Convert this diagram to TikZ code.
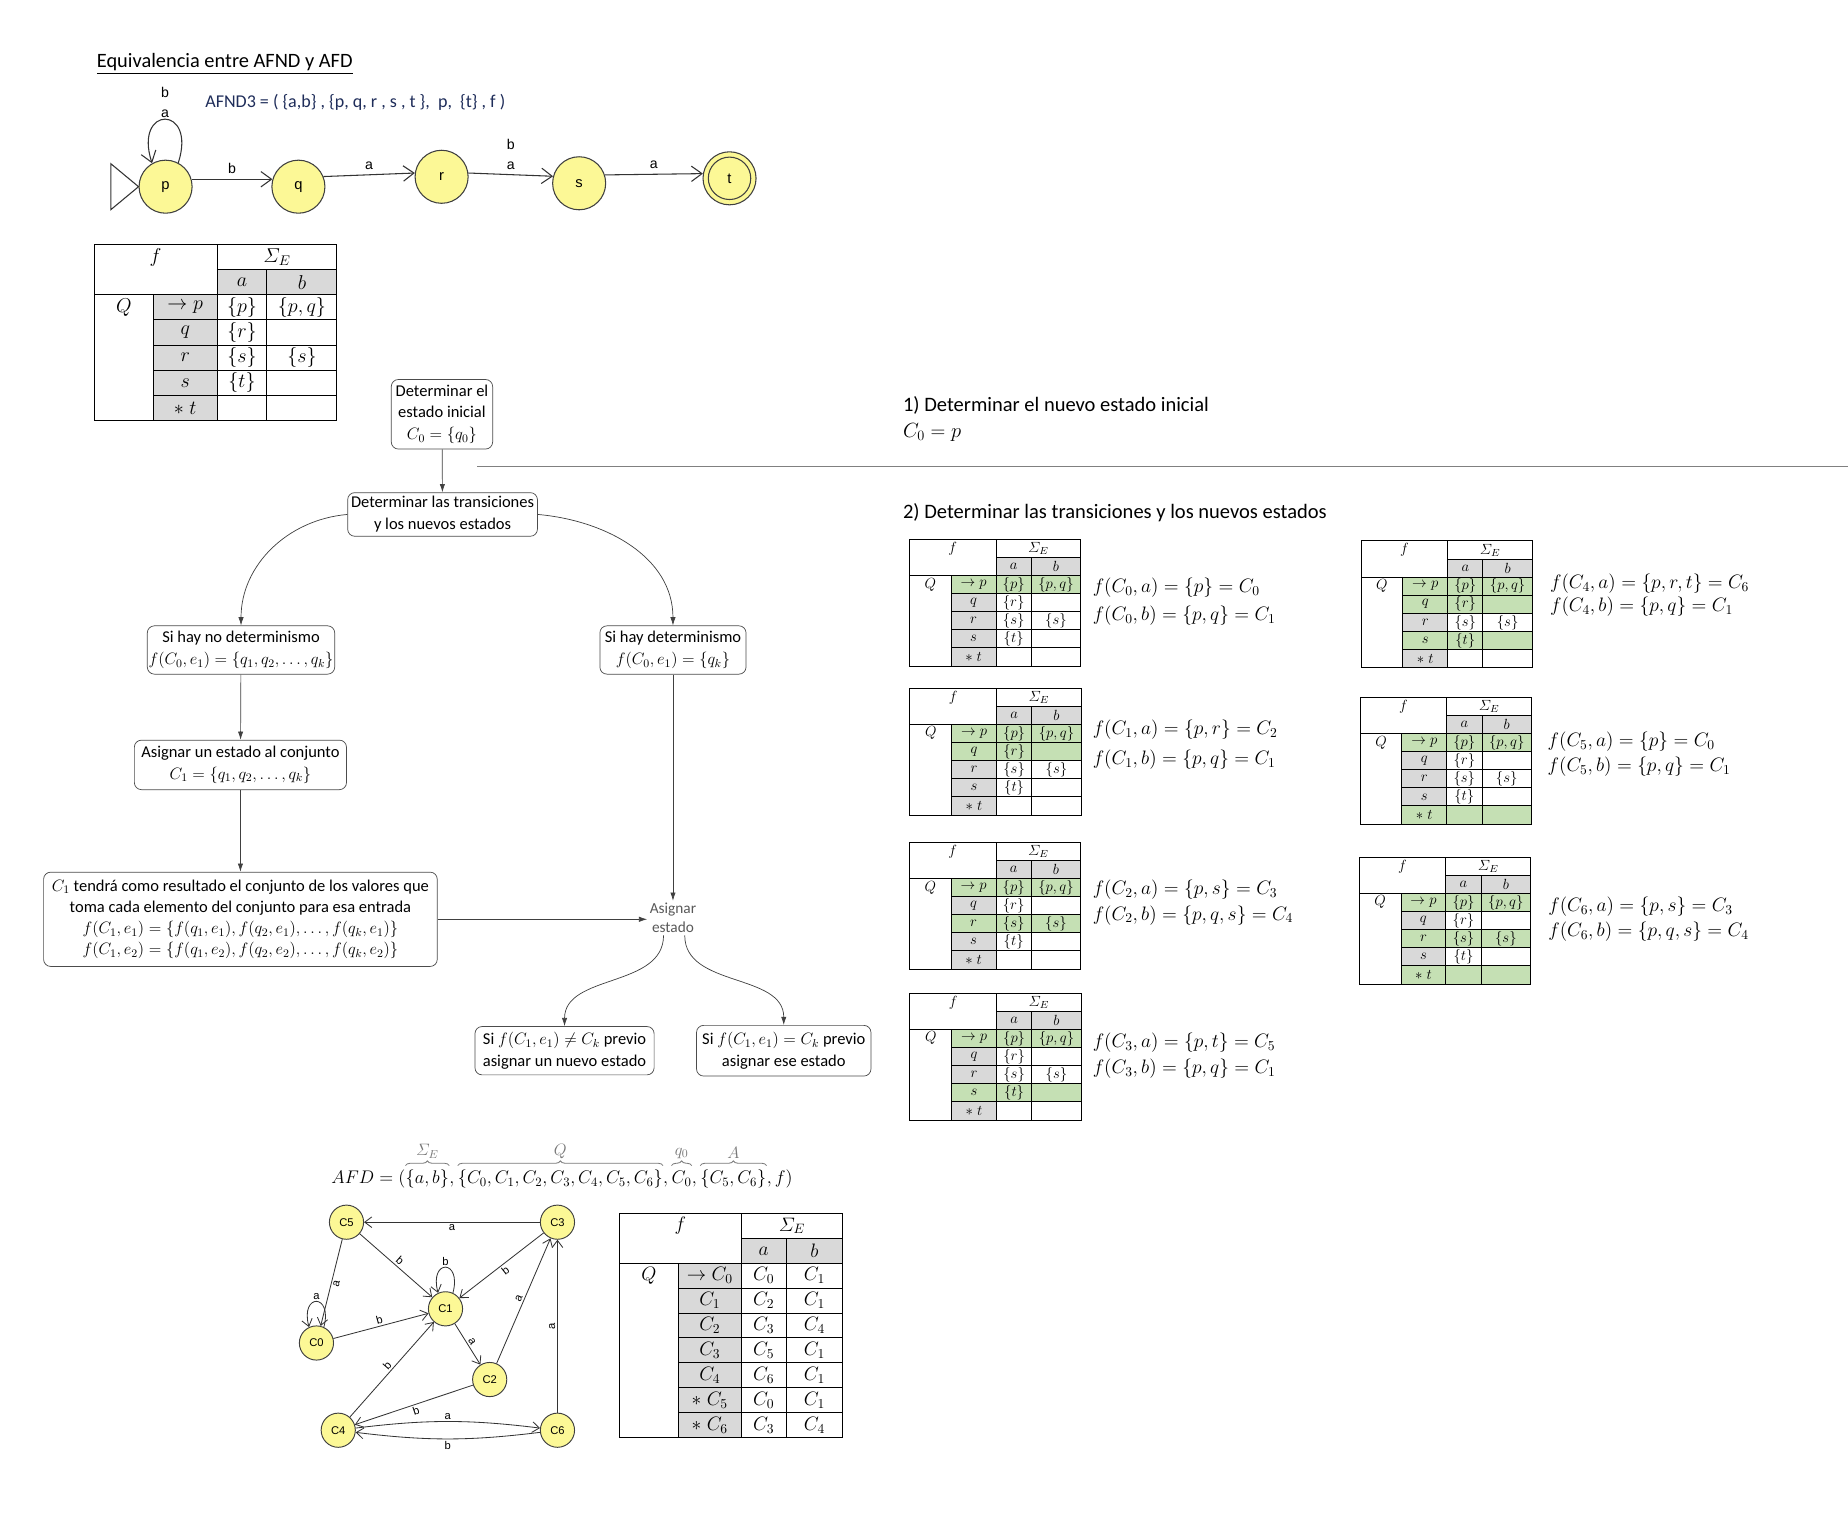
\RequirePackage{fix-cm}
\documentclass[tikz,border=0pt]{standalone}
\usepackage{amsmath}
\usepackage[no-math]{fontspec}
\setmainfont{Carlito}
\newfontfamily\arialfont{Liberation Sans}
\usetikzlibrary{arrows.meta,calc,decorations.pathreplacing}

\definecolor{nodeyellow}{RGB}{252,248,150}
\definecolor{cgray}{RGB}{217,217,217}
\definecolor{cgreen}{RGB}{197,224,180}
\definecolor{braceg}{RGB}{120,120,120}
\definecolor{navytext}{RGB}{31,45,90}

\tikzset{
  tabline/.style={draw=black, line width=0.8pt},
  afnst/.style={circle, draw=black!75, line width=0.9pt, fill=nodeyellow,
    minimum size=45pt, inner sep=0pt, font=\arialfont\fontsize{12.5}{14}\selectfont},
  aedge/.style={draw=black!80, line width=0.9pt, -{Straight Barb[length=9pt,width=13pt]}},
  alab/.style={font=\arialfont\fontsize{12}{17}\selectfont, inner sep=1pt, align=center},
  dst/.style={circle, draw=black!75, line width=0.8pt, fill=nodeyellow,
    minimum size=29pt, inner sep=0pt, font=\arialfont\fontsize{9.5}{11}\selectfont},
  dedge/.style={draw=black!80, line width=0.7pt, -{Straight Barb[length=6pt,width=9pt]}},
  dlab/.style={font=\arialfont\fontsize{9.5}{11}\selectfont, inner sep=1.5pt},
  fbox/.style={draw=black!70, line width=0.6pt, rounded corners=6pt, align=center,
    inner sep=1pt, font=\fontsize{14}{18.5}\selectfont},
  farr/.style={draw=black!75, line width=0.6pt, -{Latex[length=7pt,width=4.5pt]}},
  bigtext/.style={anchor=west, inner sep=0pt, font=\fontsize{17.4}{20}\selectfont},
  eqn/.style={anchor=west, inner sep=0pt, font=\fontsize{16.5}{20}\selectfont},
  tup/.style={anchor=base west, inner sep=0pt, font=\fontsize{15.5}{19}\selectfont},
  gbr/.style={draw=braceg, line width=0.7pt, decorate, decoration={brace, amplitude=4pt}},
  blab/.style={anchor=south, inner sep=0pt, text=braceg, font=\fontsize{14}{16}\selectfont},
}

% transition table of the AFND, with some state rows shaded green
% #1 name, #2 x, #3 y (top left), #4 xscale, #5 yscale, #6 font, #7 green rows (0 = none)
\newcommand\transtable[7]{%
\begin{scope}[shift={(#2,-#3)}, xscale=#4, yscale=#5]
  \fill[cgray] (104.1,-21.5) rectangle (205.9,-42.5);
  \fill[cgray] (50.2,-42.5) rectangle (104.1,-149.5);
  \foreach \hr in {#7}{\ifnum\hr>0
    \fill[cgreen] (50.2,{-42.5-(\hr-1)*21.4}) rectangle (205.9,{-42.5-\hr*21.4});\fi}
  \draw[tabline] (0,0) rectangle (205.9,-149.5);
  \draw[tabline] (104.1,0) -- (104.1,-149.5);
  \draw[tabline] (104.1,-21.5) -- (205.9,-21.5);
  \draw[tabline] (146.5,-21.5) -- (146.5,-149.5);
  \draw[tabline] (0,-42.5) -- (205.9,-42.5);
  \draw[tabline] (50.2,-42.5) -- (50.2,-149.5);
  \foreach \k in {1,...,4}
    \draw[tabline] (50.2,{-42.5-\k*21.4}) -- (205.9,{-42.5-\k*21.4});
  \begin{scope}[every node/.style={font=#6, inner sep=0pt}]
    \node (#1-f) at (52.05,-10.75) {$f$};
    \node (#1-sig) at (155,-10.75) {$\varSigma_E$};
    \node (#1-a) at (125.3,-32) {$a$};
    \node (#1-b) at (176.2,-32) {$b$};
    \node (#1-Q) at (25.1,-53.2) {$Q$};
    \foreach \lab [count=\i] in {{\rightarrow p}, q, r, s, {\ast\;t}}
      \node (#1-l\i) at (77.15,{-42.5-(\i-0.5)*21.4}) {$\lab$};
    \foreach \i/\va in {1/{\{p\}}, 2/{\{r\}}, 3/{\{s\}}, 4/{\{t\}}}
      \node (#1-x\i) at (125.3,{-42.5-(\i-0.5)*21.4}) {$\va$};
    \foreach \i/\vb in {1/{\{p,q\}}, 3/{\{s\}}}
      \node (#1-y\i) at (176.2,{-42.5-(\i-0.5)*21.4}) {$\vb$};
  \end{scope}
\end{scope}}

\begin{document}
\begin{tikzpicture}[x=1pt,y=1pt]
\useasboundingbox (0,0) rectangle (1568,-1290);
\fill[white] (0,0) rectangle (1568,-1290);

% ---------- heading and the AFND ----------
\node[anchor=base west, inner sep=0pt, font=\fontsize{17.3}{20}\selectfont] (title)
  at (82,-57) {\underline{Equivalencia entre AFND y AFD}};
\node[anchor=west, inner sep=0pt, text=navytext, font=\fontsize{15.3}{18}\selectfont] (afnd)
  at (174,-87) {AFND3 = ( \{a,b\} , \{p, q, r , s , t \},~ p,~ \{t\} , f )};

\node[afnst] (p) at (140.5,-158.4) {p};
\node[afnst] (q) at (253.2,-158.4) {q};
\node[afnst] (r) at (374.7,-150) {r};
\node[afnst] (s) at (491.4,-155.5) {s};
\node[afnst] (t) at (619,-151.3) {t};
\draw[black!75, line width=0.9pt] (t.center) circle[radius=18];
\draw[black!80, line width=0.9pt] (p.west) -- ++(-23.5,19.5) -- ++(0,-39) -- cycle;

\draw[aedge] (p.62) .. controls +(72:52) and +(108:52) .. node[alab, above=0pt]{b\\a} (p.120);
\draw[aedge] (p.16) -- node[alab, above=3pt]{b} (q.164);
\draw[aedge] (q.22) -- node[alab, above=3pt]{a} (r.172);
\draw[aedge] (r.8) -- node[alab, above=3pt]{b\\a} (s.165);
\draw[aedge] (s.18) -- node[alab, above=3pt]{a} (t.170);

% ---------- table of the AFND ----------
\transtable{tA}{80}{207.4}{1}{1}{\fontsize{17}{20}\selectfont}{0}

% ---------- flow of the method ----------
\node[fbox, minimum width=86pt, minimum height=59pt] (b1) at (375,-351.5)
  {Determinar el\\estado inicial\\$C_0=\{q_0\}$};
\node[fbox, minimum width=161pt, minimum height=37pt] (b2) at (375.5,-436.5)
  {Determinar las transiciones\\y los nuevos estados};
\node[fbox, minimum width=159pt, minimum height=41pt] (b3) at (204.5,-551.5)
  {Si hay no determinismo\\$f(C_0,e_1)=\{q_1,q_2,\dots,q_k\}$};
\node[fbox, minimum width=124pt, minimum height=41pt] (b4) at (571,-551.5)
  {Si hay determinismo\\$f(C_0,e_1)=\{q_k\}$};
\node[fbox, minimum width=180pt, minimum height=42pt] (b5) at (204,-649)
  {Asignar un estado al conjunto\\$C_1=\{q_1,q_2,\dots,q_k\}$};
\node[fbox, minimum width=334pt, minimum height=80pt, font=\fontsize{14}{18}\selectfont] (b6) at (204,-780)
  {$C_1$ tendrá como resultado el conjunto de los valores que\\
   toma cada elemento del conjunto para esa entrada\\
   $f(C_1,e_1)=\{f(q_1,e_1),f(q_2,e_1),\dots,f(q_k,e_1)\}$\\
   $f(C_1,e_2)=\{f(q_1,e_2),f(q_2,e_2),\dots,f(q_k,e_2)\}$};
\node[fbox, minimum width=152pt, minimum height=41pt] (b7) at (479,-891.5)
  {Si $f(C_1,e_1)\neq C_k$ previo\\asignar un nuevo estado};
\node[fbox, minimum width=148pt, minimum height=43pt] (b8) at (665,-891.5)
  {Si $f(C_1,e_1)=C_k$ previo\\asignar ese estado};
\node[align=center, inner sep=2pt, text=black!65, font=\fontsize{13}{16}\selectfont] (asig)
  at (571,-779) {Asignar\\estado};

\draw[farr] (b1) -- (b2);
\draw[farr] (b2.west) to[out=185,in=90] (b3.north);
\draw[farr] (b2.east) to[out=-5,in=90] (b4.north);
\draw[farr] (b3) -- (b5);
\draw[farr] (b5) -- (b6);
\draw[farr] (b6.east) -- (b6.east -| asig.west);
\draw[farr] (b4) -- (asig);
\draw[farr] ($(asig.south)+(-8,0)$) to[out=-90,in=90] (b7.north);
\draw[farr] ($(asig.south)+(10,0)$) to[out=-90,in=90] (b8.north);

% separator between the two steps
\draw[black!50, line width=1pt] (405,-396) -- (1568,-396);

% ---------- steps on the right ----------
\node[bigtext] (st1) at (766,-344) {1) Determinar el nuevo estado inicial};
\node[bigtext] (st1b) at (766,-367) {$C_0=p$};
\node[bigtext] (st2) at (766,-435) {2) Determinar las transiciones y los nuevos estados};

\transtable{t0}{771.6}{457.6}{0.706}{0.719}{\fontsize{12.5}{15}\selectfont}{1}
\transtable{t1}{772}{584}{0.706}{0.719}{\fontsize{12.5}{15}\selectfont}{1,2}
\transtable{t2}{771.6}{714.7}{0.706}{0.719}{\fontsize{12.5}{15}\selectfont}{1,3}
\transtable{t3}{772}{842.8}{0.706}{0.719}{\fontsize{12.5}{15}\selectfont}{1,4}
\transtable{t4}{1154.8}{459}{0.706}{0.719}{\fontsize{12.5}{15}\selectfont}{1,2,4}
\transtable{t5}{1154}{591.7}{0.706}{0.719}{\fontsize{12.5}{15}\selectfont}{1,5}
\transtable{t6}{1153.3}{727.4}{0.706}{0.719}{\fontsize{12.5}{15}\selectfont}{1,3,5}

\node[eqn] (e0a) at (927,-499) {$f(C_0,a)=\{p\}=C_0$};
\node[eqn] (e0b) at (927,-522) {$f(C_0,b)=\{p,q\}=C_1$};
\node[eqn] (e1a) at (927,-619.5) {$f(C_1,a)=\{p,r\}=C_2$};
\node[eqn] (e1b) at (927,-644.5) {$f(C_1,b)=\{p,q\}=C_1$};
\node[eqn] (e2a) at (927,-755) {$f(C_2,a)=\{p,s\}=C_3$};
\node[eqn] (e2b) at (927,-776.5) {$f(C_2,b)=\{p,q,s\}=C_4$};
\node[eqn] (e3a) at (927,-885) {$f(C_3,a)=\{p,t\}=C_5$};
\node[eqn] (e3b) at (927,-906.5) {$f(C_3,b)=\{p,q\}=C_1$};
\node[eqn] (e4a) at (1315,-495) {$f(C_4,a)=\{p,r,t\}=C_6$};
\node[eqn] (e4b) at (1315,-515) {$f(C_4,b)=\{p,q\}=C_1$};
\node[eqn] (e5a) at (1313,-629.5) {$f(C_5,a)=\{p\}=C_0$};
\node[eqn] (e5b) at (1313,-650.5) {$f(C_5,b)=\{p,q\}=C_1$};
\node[eqn] (e6a) at (1313.5,-769.5) {$f(C_6,a)=\{p,s\}=C_3$};
\node[eqn] (e6b) at (1313.5,-790.5) {$f(C_6,b)=\{p,q,s\}=C_4$};

% ---------- the resulting AFD as a tuple ----------
\node[tup] (u0) at (281,-1004) {$AFD=($};
\node[tup] (u1) at (u0.base east) {$\{a,b\}$};
\node[tup] (u2) at (u1.base east) {$,\,$};
\node[tup] (u3) at (u2.base east) {$\{C_0,C_1,C_2,C_3,C_4,C_5,C_6\}$};
\node[tup] (u4) at (u3.base east) {$,\,$};
\node[tup] (u5) at (u4.base east) {$C_0$};
\node[tup] (u6) at (u5.base east) {$,\,$};
\node[tup] (u7) at (u6.base east) {$\{C_5,C_6\}$};
\node[tup] (u8) at (u7.base east) {$,f)$};

\coordinate (brl) at (0,-989);
\draw[gbr] (u1.west |- brl) -- (u1.east |- brl);
\draw[gbr] (u3.west |- brl) -- (u3.east |- brl);
\draw[gbr] (u5.west |- brl) -- (u5.east |- brl);
\draw[gbr] (u7.west |- brl) -- (u7.east |- brl);
\node[blab] (lsig) at ($(u1.west |- brl)!0.5!(u1.east |- brl)+(0,6)$) {$\varSigma_E$};
\node[blab] (lq) at ($(u3.west |- brl)!0.5!(u3.east |- brl)+(0,6)$) {$Q$};
\node[blab] (lq0) at ($(u5.west |- brl)!0.5!(u5.east |- brl)+(0,6)$) {$q_0$};
\node[blab] (la) at ($(u7.west |- brl)!0.5!(u7.east |- brl)+(0,6)$) {$A$};

% ---------- the resulting AFD as a graph ----------
\node[dst] (C5) at (294,-1037) {C5};
\node[dst] (C3) at (473,-1037) {C3};
\node[dst] (C1) at (378,-1110.5) {C1};
\node[dst] (C0) at (268.5,-1139.5) {C0};
\node[dst] (C2) at (415.5,-1170.5) {C2};
\node[dst] (C4) at (287,-1213.5) {C4};
\node[dst] (C6) at (473,-1213.5) {C6};

\draw[dedge] (C3) -- node[dlab, below]{a} (C5);
\draw[dedge] (C5) -- node[dlab, above, sloped]{b} (C1);
\draw[dedge] (C5) -- node[dlab, below, sloped]{a} (C0);
\draw[dedge] (C0) -- node[dlab, above, sloped]{b} (C1);
\draw[dedge] (C3) -- node[dlab, below, sloped]{b} (C1);
\draw[dedge] (C1) -- node[dlab, above, sloped]{a} (C2);
\draw[dedge] (C2) -- node[dlab, above, sloped]{a} (C3);
\draw[dedge] (C6) -- node[dlab, above, sloped]{a} (C3);
\draw[dedge] (C4) -- node[dlab, above, sloped]{b} (C1);
\draw[dedge] (C2) -- node[dlab, below, sloped]{b} (C4);
\draw[dedge] (C4) to[bend left=7] node[dlab, above]{a} (C6);
\draw[dedge] (C6) to[bend left=7] node[dlab, below]{b} (C4);
\draw[dedge] (C0.65) .. controls +(75:30) and +(105:30) .. node[dlab, above]{a} (C0.115);
\draw[dedge] (C1.65) .. controls +(75:30) and +(105:30) .. node[dlab, above]{b} (C1.115);

% ---------- table of the AFD ----------
\begin{scope}[shift={(525.5,-1029.5)}]
  \fill[cgray] (103.5,-21.2) rectangle (189.5,-42.4);
  \fill[cgray] (50,-42.4) rectangle (103.5,-190.1);
  \draw[tabline] (0,0) rectangle (189.5,-190.1);
  \draw[tabline] (103.5,0) -- (103.5,-190.1);
  \draw[tabline] (103.5,-21.2) -- (189.5,-21.2);
  \draw[tabline] (141.5,-21.2) -- (141.5,-190.1);
  \draw[tabline] (0,-42.4) -- (189.5,-42.4);
  \draw[tabline] (50,-42.4) -- (50,-190.1);
  \foreach \k in {1,...,6}
    \draw[tabline] (50,{-42.4-\k*21.1}) -- (189.5,{-42.4-\k*21.1});
  \begin{scope}[every node/.style={font=\fontsize{16.5}{19}\selectfont, inner sep=0pt}]
    \node (dT-f) at (51.75,-10.6) {$f$};
    \node (dT-sig) at (146.5,-10.6) {$\varSigma_E$};
    \node (dT-a) at (122.5,-31.8) {$a$};
    \node (dT-b) at (165.5,-31.8) {$b$};
    \node (dT-Q) at (25,-52.95) {$Q$};
    \foreach \lab/\va/\vb [count=\i] in
      {{\rightarrow C_0}/{C_0}/{C_1}, {C_1}/{C_2}/{C_1}, {C_2}/{C_3}/{C_4},
       {C_3}/{C_5}/{C_1}, {C_4}/{C_6}/{C_1}, {\ast\;C_5}/{C_0}/{C_1},
       {\ast\;C_6}/{C_3}/{C_4}}{
      \node (dT-l\i) at (76.75,{-42.4-(\i-0.5)*21.1}) {$\lab$};
      \node (dT-x\i) at (122.5,{-42.4-(\i-0.5)*21.1}) {$\va$};
      \node (dT-y\i) at (165.5,{-42.4-(\i-0.5)*21.1}) {$\vb$};
    }
  \end{scope}
\end{scope}

\end{tikzpicture}
\end{document}
